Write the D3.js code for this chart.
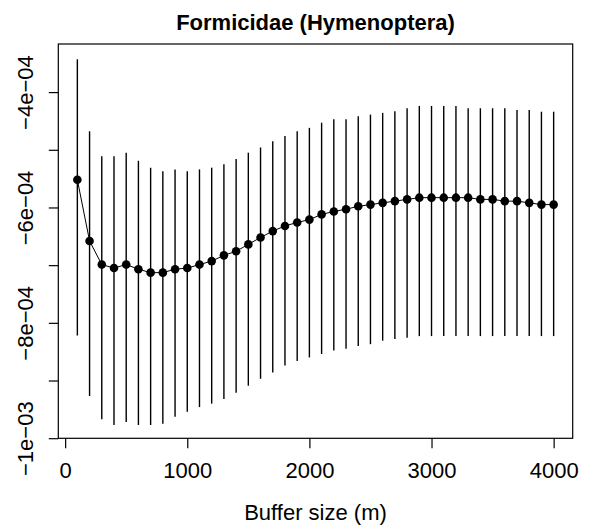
<!DOCTYPE html>
<html>
<head>
<meta charset="utf-8">
<script src="https://cdn.jsdelivr.net/npm/d3@7"></script>
<style>
  html, body { margin: 0; padding: 0; background: #fff; }
  svg { display: block; }
  text { font-family: "Liberation Sans", Arial, Helvetica, sans-serif; fill: #000; }
</style>
</head>
<body>
<svg id="chart" width="589" height="526"></svg>
<script>
// ---- data (values in units of 1e-4 are scaled below) ----
const title = "Formicidae (Hymenoptera)";
const xLabel = "Buffer size (m)";
const bufferSizes = [100,200,300,400,500,600,700,800,900,1000,
  1100,1200,1300,1400,1500,1600,1700,1800,1900,2000,
  2100,2200,2300,2400,2500,2600,2700,2800,2900,3000,
  3100,3200,3300,3400,3500,3600,3700,3800,3900,4000];
const estimate = [-5.52,-6.58,-6.99,-7.05,-6.99,-7.07,-7.13,-7.13,-7.07,-7.05,
  -6.99,-6.93,-6.83,-6.76,-6.64,-6.52,-6.41,-6.32,-6.26,-6.21,
  -6.12,-6.07,-6.03,-5.98,-5.95,-5.92,-5.89,-5.86,-5.83,-5.83,
  -5.83,-5.83,-5.83,-5.86,-5.86,-5.89,-5.89,-5.92,-5.95,-5.95].map(v => v * 1e-4);
const upper = [-3.43,-4.68,-5.11,-5.11,-5.05,-5.19,-5.31,-5.37,-5.34,-5.37,
  -5.34,-5.31,-5.25,-5.16,-5.05,-4.96,-4.85,-4.76,-4.68,-4.62,
  -4.53,-4.47,-4.47,-4.42,-4.39,-4.36,-4.33,-4.28,-4.24,-4.24,
  -4.24,-4.24,-4.28,-4.28,-4.28,-4.28,-4.31,-4.31,-4.34,-4.34].map(v => v * 1e-4);
const lower = [-8.22,-9.27,-9.67,-9.77,-9.72,-9.77,-9.77,-9.75,-9.63,-9.54,
  -9.46,-9.40,-9.32,-9.21,-9.09,-8.97,-8.86,-8.74,-8.66,-8.60,
  -8.54,-8.48,-8.45,-8.40,-8.37,-8.31,-8.28,-8.26,-8.23,-8.23,
  -8.23,-8.23,-8.23,-8.23,-8.23,-8.23,-8.23,-8.23,-8.23,-8.23].map(v => v * 1e-4);
const xTicks = [0, 1000, 2000, 3000, 4000];
const yTicks = [-4e-4, -5e-4, -6e-4, -7e-4, -8e-4, -9e-4, -1e-3];
const yTickLabels = {"-0.0004": "\u22124e\u221204", "-0.0006": "\u22126e\u221204",
                     "-0.0008": "\u22128e\u221204", "-0.001": "\u22121e\u221203"};

const rows = bufferSizes.map((x, i) => ({x, y: estimate[i], lo: lower[i], hi: upper[i]}));

// ---- layout ----
const L = 58.3, R = 572.7, T = 44, B = 438.3;
const svg = d3.select("#chart");

const x = d3.scaleLinear().domain([-56, 4156]).range([L, R]);
const y = d3.scaleLinear().domain([-1.00017e-3, -3.166e-4]).range([B, T]);

// error bars
svg.append("g").selectAll("line").data(rows).join("line")
  .attr("x1", d => x(d.x)).attr("x2", d => x(d.x))
  .attr("y1", d => y(d.lo)).attr("y2", d => y(d.hi))
  .attr("stroke", "#000").attr("stroke-width", 1.4);

// connecting line
svg.append("path").datum(rows)
  .attr("d", d3.line().x(d => x(d.x)).y(d => y(d.y)))
  .attr("fill", "none").attr("stroke", "#000").attr("stroke-width", 1);

// points
svg.append("g").selectAll("circle").data(rows).join("circle")
  .attr("cx", d => x(d.x)).attr("cy", d => y(d.y)).attr("r", 4.3)
  .attr("fill", "#000");

// box
svg.append("rect").attr("x", L).attr("y", T).attr("width", R - L).attr("height", B - T)
  .attr("fill", "none").attr("stroke", "#000").attr("stroke-width", 1.2);

// x axis
const gx = svg.append("g").attr("transform", `translate(0,${B})`)
  .call(d3.axisBottom(x).tickValues(xTicks).tickSize(10).tickSizeOuter(0).tickPadding(24)
        .tickFormat(d3.format("d")));
gx.select(".domain").remove();
gx.selectAll(".tick line").attr("stroke", "#000").attr("stroke-width", 1.2);
gx.selectAll(".tick text").attr("font-size", 22).attr("dy", 0).attr("y", 40)
  .attr("font-family", "Liberation Sans, Arial, sans-serif");

// y axis
const gy = svg.append("g").attr("transform", `translate(${L},0)`)
  .call(d3.axisLeft(y).tickValues(yTicks).tickSize(9.5).tickSizeOuter(0)
        .tickFormat(d => yTickLabels[String(d)] || ""));
gy.select(".domain").remove();
gy.selectAll(".tick line").attr("stroke", "#000").attr("stroke-width", 1.2);
gy.selectAll(".tick text")
  .attr("font-size", 22).attr("font-family", "Liberation Sans, Arial, sans-serif")
  .attr("x", null).attr("dy", null)
  .attr("text-anchor", "middle")
  .attr("transform", `translate(${33 - L},0) rotate(-90)`);

// title
svg.append("text").attr("x", (L + R) / 2).attr("y", 29.5)
  .attr("text-anchor", "middle").attr("font-size", 22).attr("font-weight", "bold")
  .text(title);

// x label
svg.append("text").attr("x", (L + R) / 2).attr("y", 519.5)
  .attr("text-anchor", "middle").attr("font-size", 22)
  .text(xLabel);
</script>
</body>
</html>
